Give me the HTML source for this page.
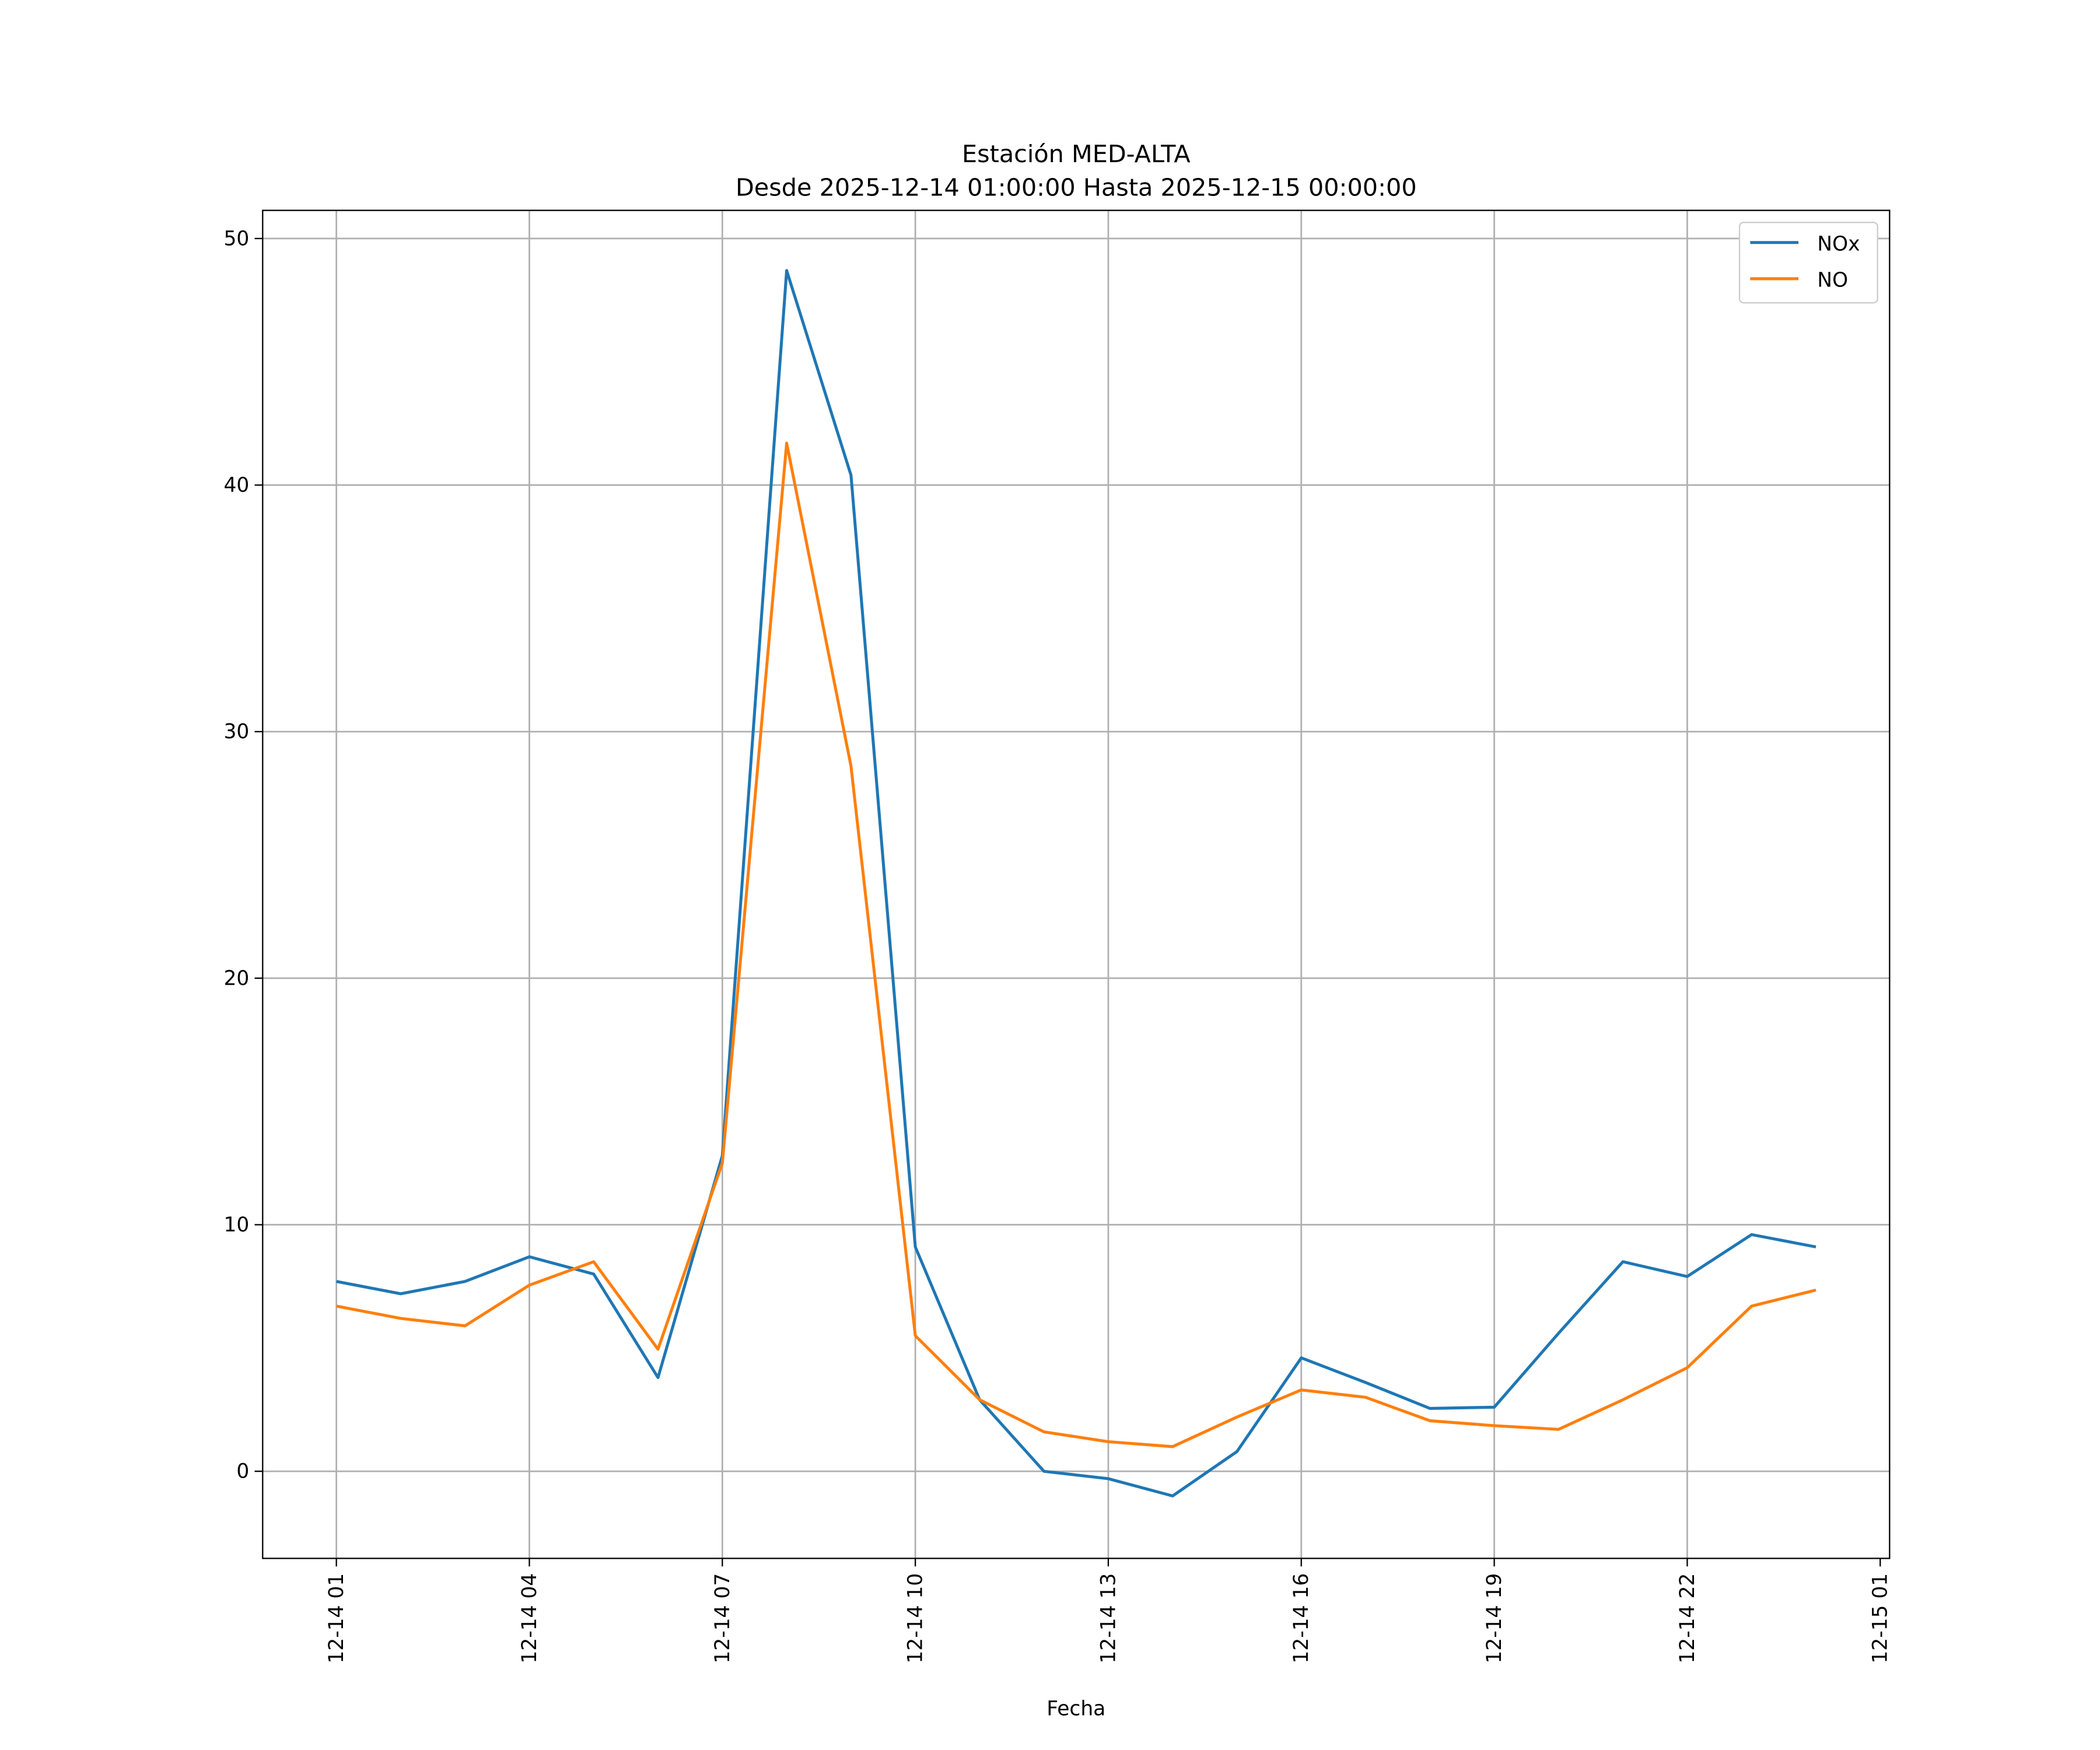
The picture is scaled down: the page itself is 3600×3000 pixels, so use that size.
<!DOCTYPE html>
<html><head><meta charset="utf-8"><style>
html,body{margin:0;padding:0;background:#fff;}
svg{display:block;font-family:"DejaVu Sans","Liberation Sans",sans-serif;}
</style></head><body>
<svg id="chart" width="3600" height="3000" viewBox="0 0 1567 1306" preserveAspectRatio="none" xmlns="http://www.w3.org/2000/svg">
<rect width="1567" height="1306" fill="#fff"/>
<g id="grid"></g>
<g id="series"></g>
<rect x="196" y="157" width="1214" height="1006" fill="none" stroke="#000" stroke-width="1"/>
<g id="ticks"></g>
<text x="803" y="121" text-anchor="middle" font-size="18">Estación MED-ALTA</text>
<text x="803" y="146" text-anchor="middle" font-size="18">Desde 2025-12-14 01:00:00 Hasta 2025-12-15 00:00:00</text>
<text x="803" y="1280" text-anchor="middle" font-size="15">Fecha</text>
<g>
<rect x="1298" y="166" width="103" height="60" rx="3" fill="#fff" stroke="#ccc"/>
<line x1="1306" y1="181" x2="1342" y2="181" stroke="#1f77b4" stroke-width="2.2"/>
<text x="1356" y="187" font-size="15">NOx</text>
<line x1="1306" y1="208" x2="1342" y2="208" stroke="#ff7f0e" stroke-width="2.2"/>
<text x="1356" y="214" font-size="15">NO</text>
</g>
</svg>
<script>
const hours = [1,2,3,4,5,6,7,8,9,10,11,12,13,14,15,16,17,18,19,20,21,22,23,24];
const noxValues = [7.7,7.2,7.7,8.7,8.0,3.8,12.8,48.7,40.4,9.1,2.9,0.0,-0.3,-1.0,0.8,4.6,3.6,2.55,2.6,5.6,8.5,7.9,9.6,9.1];
const noValues = [6.7,6.2,5.9,7.55,8.5,4.95,12.5,41.7,28.6,5.5,2.9,1.6,1.2,1.0,2.2,3.3,3.0,2.05,1.85,1.7,2.9,4.2,6.7,7.35];
const yTicks = [0,10,20,30,40,50];
const xTickHours = [1,4,7,10,13,16,19,22,25];
const xTickLabels = ["12-14 01","12-14 04","12-14 07","12-14 10","12-14 13","12-14 16","12-14 19","12-14 22","12-15 01"];

const NS="http://www.w3.org/2000/svg";
function xs(h){return 251+(h-1)*48;}
function ys(v){return 1098-v*18.4;}
function mk(tag,attrs,parent){const e=document.createElementNS(NS,tag);for(const k in attrs)e.setAttribute(k,attrs[k]);parent.appendChild(e);return e;}
const grid=document.getElementById('grid'),ticks=document.getElementById('ticks'),series=document.getElementById('series');
yTicks.forEach(v=>{
  const y=ys(v);
  const g=mk('line',{x1:196,x2:1410,y1:y,y2:y,stroke:'#b0b0b0','stroke-width':1.2},grid);
  
  
  mk('line',{x1:190,x2:196,y1:y,y2:y,stroke:'#000'},ticks);
  const t=mk('text',{x:186,y:y+5,'text-anchor':'end','font-size':15},ticks);
  t.textContent=String(v);
  
  
});
xTickHours.forEach((h,i)=>{
  const x=xs(h);
  if(h<=24){const g=mk('line',{x1:x,x2:x,y1:157,y2:1163,stroke:'#b0b0b0','stroke-width':1.2},grid);
  
  }
  mk('line',{x1:x,x2:x,y1:1163,y2:1169,stroke:'#000'},ticks);
  const t=mk('text',{x:0,y:0,'text-anchor':'end','font-size':15,transform:`translate(${x+5},1174) rotate(-90)`},ticks);
  t.textContent=xTickLabels[i];
  
  
});
function line(vals,color,name){
  const p=mk('polyline',{points:vals.map((v,i)=>xs(hours[i])+','+ys(v)).join(' '),fill:'none',stroke:color,'stroke-width':2.2,'stroke-linejoin':'round'},series);
  
  
}
line(noxValues,'#1f77b4','nox-line');
line(noValues,'#ff7f0e','no-line');
</script>
</body></html>
